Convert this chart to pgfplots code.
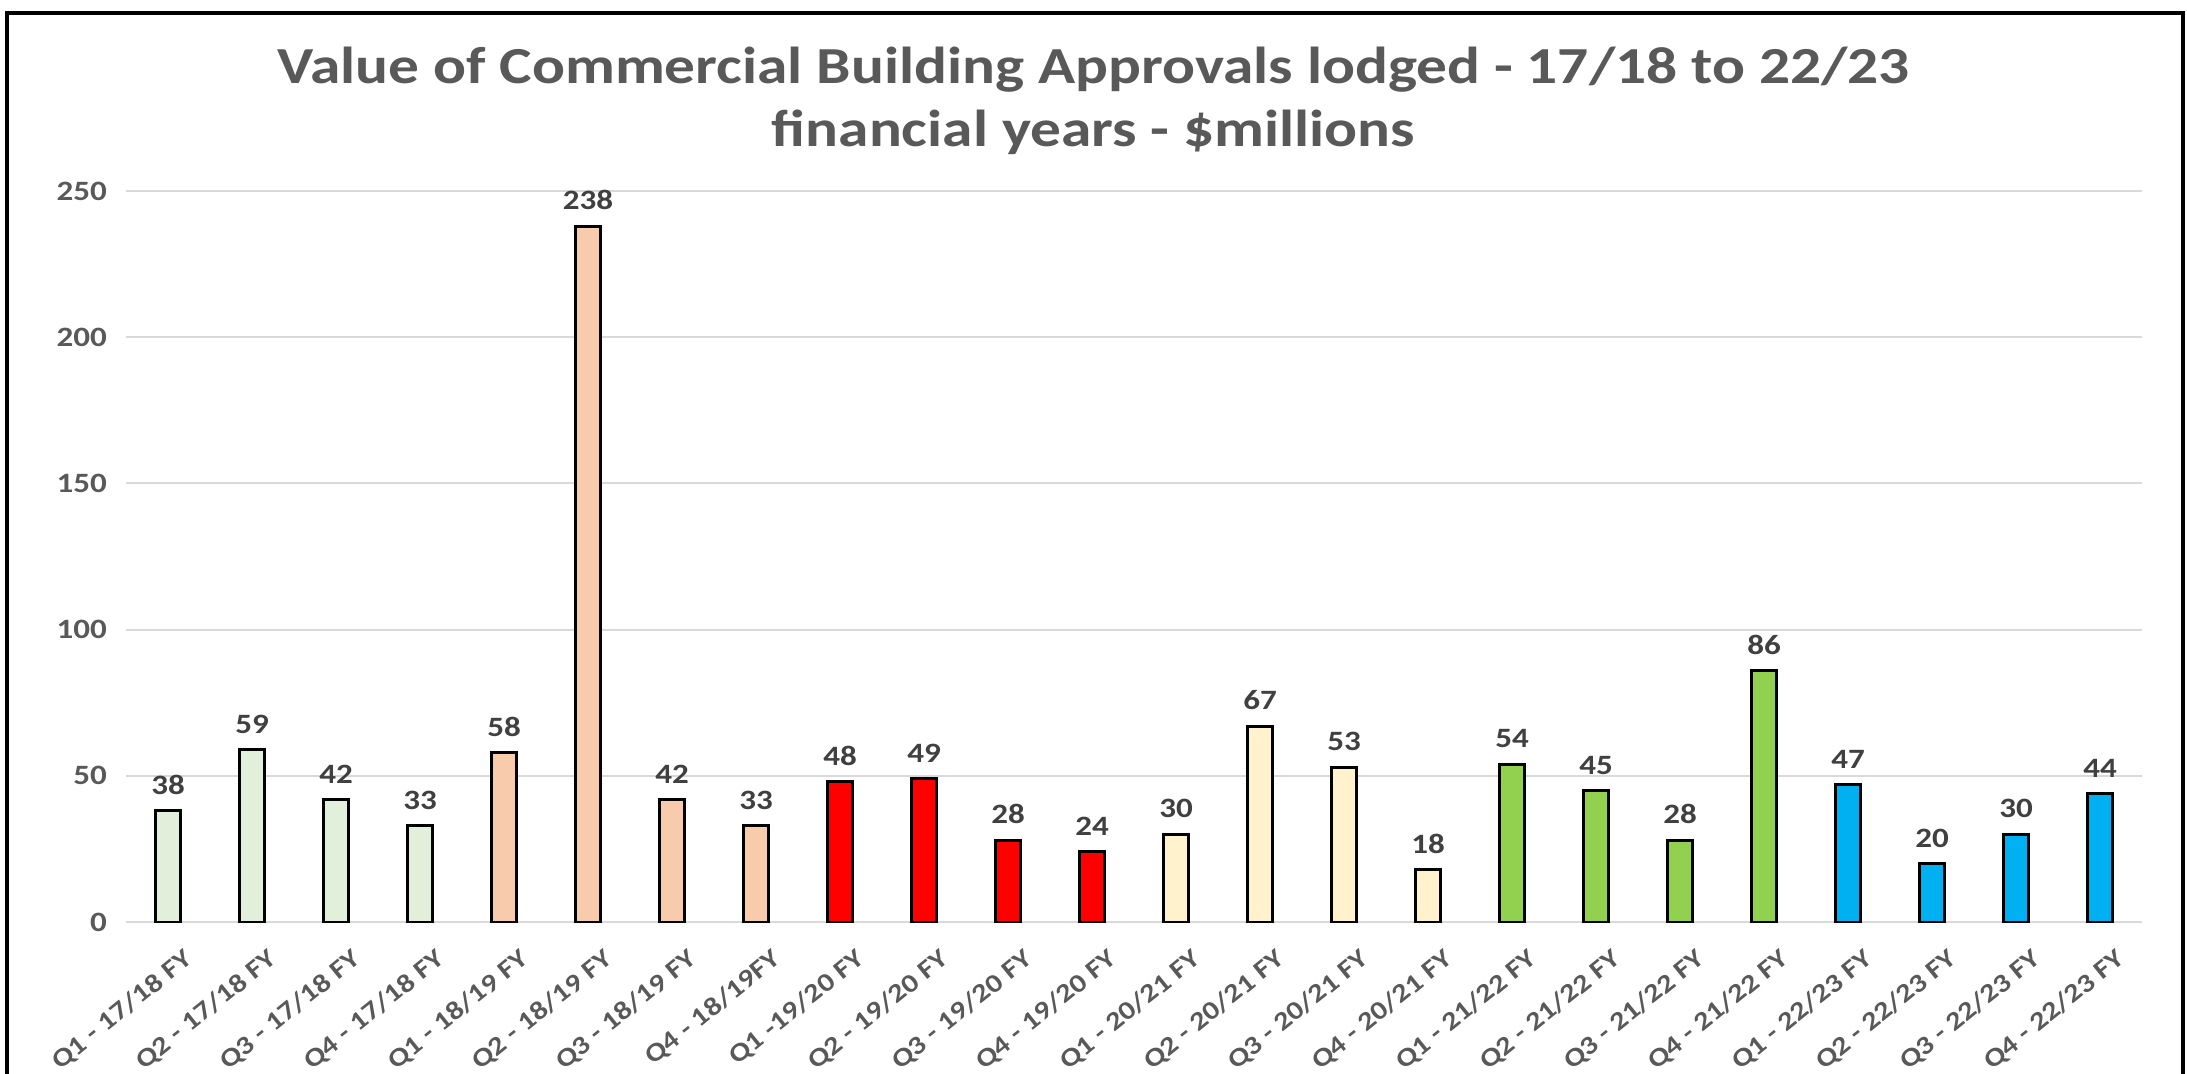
\documentclass[border=0pt]{standalone}
\usepackage{pgfplots}
\pgfplotsset{compat=1.18}
\usepackage{fontspec}
\setmainfont{Carlito}[FakeStretch=1.18]
\definecolor{cA}{HTML}{E2EFDA}
\definecolor{cB}{HTML}{F8CBAD}
\definecolor{cC}{HTML}{FF0000}
\definecolor{cD}{HTML}{FFF2CC}
\definecolor{cE}{HTML}{92D050}
\definecolor{cF}{HTML}{00B0F0}
\definecolor{txt}{HTML}{595959}
\definecolor{lbl}{HTML}{404040}
\definecolor{gridc}{HTML}{D9D9D9}
\begin{document}
\begin{tikzpicture}
\useasboundingbox (0,0) rectangle (1093.5pt,536.5pt);
\draw[line width=1.6pt] (3.5pt,-10pt) -- (3.5pt,530pt) -- (1091.5pt,530pt) -- (1091.5pt,-10pt);
\node[anchor=base, text=txt, font=\bfseries\fontsize{26}{31}\selectfont] at (546.75pt,494.5pt) {Value of Commercial Building Approvals lodged - 17/18 to 22/23};
\node[anchor=base, text=txt, font=\bfseries\fontsize{26}{31}\selectfont] at (546.75pt,463pt) {financial years - \$millions};
\begin{axis}[
  at={(63pt,75.5pt)}, anchor=south west, scale only axis,
  width=1008pt, height=365.5pt,
  xmin=-0.5, xmax=23.5, ymin=0, ymax=250,
  ytick={0,50,...,250},
  xtick={0,...,23},
  xticklabels={Q1 - 17/18 FY, Q2 - 17/18 FY, Q3 - 17/18 FY, Q4 - 17/18 FY,
    Q1 - 18/19 FY, Q2 - 18/19 FY, Q3 - 18/19 FY, Q4 - 18/19FY,
    Q1 -19/20 FY, Q2 - 19/20 FY, Q3 - 19/20 FY, Q4 - 19/20 FY,
    Q1 - 20/21 FY, Q2 - 20/21 FY, Q3 - 20/21 FY, Q4 - 20/21 FY,
    Q1 - 21/22 FY, Q2 - 21/22 FY, Q3 - 21/22 FY, Q4 - 21/22 FY,
    Q1 - 22/23 FY, Q2 - 22/23 FY, Q3 - 22/23 FY, Q4 - 22/23 FY},
  /pgf/number format/assume math mode=true,
  major tick length=0pt,
  axis line style={draw=none},
  ymajorgrids, xmajorgrids=false, grid style={draw=gridc, line width=1pt},
  ticklabel style={text=txt, font=\bfseries\fontsize{14}{16}\selectfont},
  yticklabel style={xshift=-6pt},
  xticklabel style={rotate=39, anchor=north east, font=\bfseries\fontsize{13}{15}\selectfont, yshift=-11pt, xshift=1pt},
  ybar, bar width=12.5pt, bar shift=0pt,
  every axis plot/.append style={draw=black, line width=1.5pt},
  nodes near coords,
  nodes near coords style={text=lbl, font=\bfseries\fontsize{14}{16}\selectfont, anchor=south, yshift=4pt},
]
\addplot[fill=cA] coordinates {(0,38) (1,59) (2,42) (3,33)};
\addplot[fill=cB] coordinates {(4,58) (5,238) (6,42) (7,33)};
\addplot[fill=cC] coordinates {(8,48) (9,49) (10,28) (11,24)};
\addplot[fill=cD] coordinates {(12,30) (13,67) (14,53) (15,18)};
\addplot[fill=cE] coordinates {(16,54) (17,45) (18,28) (19,86)};
\addplot[fill=cF] coordinates {(20,47) (21,20) (22,30) (23,44)};
\end{axis}
\end{tikzpicture}
\end{document}
